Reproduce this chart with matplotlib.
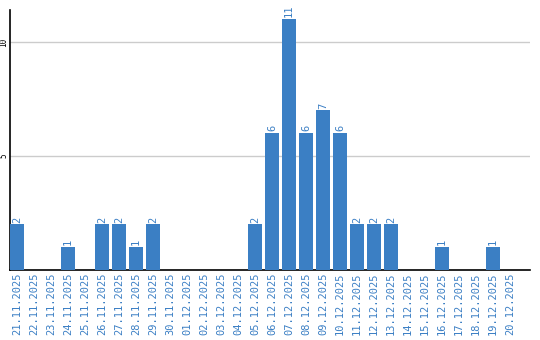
import matplotlib
matplotlib.use("Agg")
import matplotlib.pyplot as plt

dates = ["21.11.2025", "22.11.2025", "23.11.2025", "24.11.2025", "25.11.2025",
         "26.11.2025", "27.11.2025", "28.11.2025", "29.11.2025", "30.11.2025",
         "01.12.2025", "02.12.2025", "03.12.2025", "04.12.2025", "05.12.2025",
         "06.12.2025", "07.12.2025", "08.12.2025", "09.12.2025", "10.12.2025",
         "11.12.2025", "12.12.2025", "13.12.2025", "14.12.2025", "15.12.2025",
         "16.12.2025", "17.12.2025", "18.12.2025", "19.12.2025", "20.12.2025"]
values = [2, 0, 0, 1, 0, 2, 2, 1, 2, 0,
          0, 0, 0, 0, 2, 6, 11, 6, 7, 6,
          2, 2, 2, 0, 0, 1, 0, 0, 1, 0]
yticks = [5, 10]

blue = "#3b7fc4"
fig = plt.figure(figsize=(5.4, 3.4), dpi=100)
ax = fig.add_axes([10/540, 70/340, 520/540, 260/340])
x = list(range(len(dates)))
ax.bar(x, values, width=0.82, color=blue, zorder=3)
for xi, v in zip(x, values):
    if v > 0:
        ax.text(xi, v + 0.08, str(v), rotation=90, ha="center", va="bottom",
                color=blue, fontsize=7.5, family="DejaVu Sans Mono")
ax.set_xlim(-0.41, 30.18)
ax.set_ylim(0, 11.4)
ax.set_xticks(x)
ax.set_xticklabels(dates, rotation=90, color=blue, fontsize=7.5, family="DejaVu Sans Mono")
ax.set_yticks(yticks)
ax.set_yticklabels([str(t) for t in yticks], rotation=90, va="center", fontsize=5.5,
                   family="DejaVu Sans Mono")
ax.tick_params(axis="x", length=0, pad=2)
ax.tick_params(axis="y", length=0, pad=1)
ax.grid(axis="y", color="#cccccc", linewidth=1, zorder=0)
for s in ["top", "right"]:
    ax.spines[s].set_visible(False)
ax.spines["left"].set_color("black")
ax.spines["bottom"].set_color("black")
ax.spines["left"].set_linewidth(1.2)
ax.spines["bottom"].set_linewidth(1.2)
fig.savefig("out.png", dpi=100)
